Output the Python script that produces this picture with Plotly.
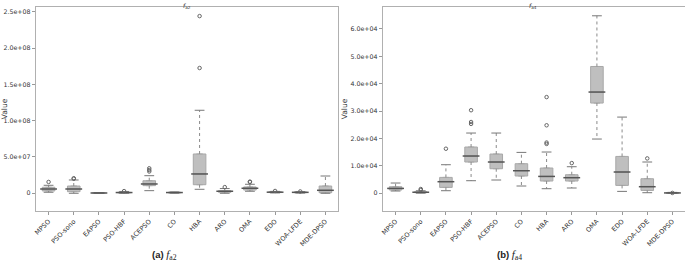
import plotly.graph_objects as go

categories = ["MPSO", "PSO-sono", "EAPSO", "PSO-HBF", "ACEPSO", "CO", "HBA",
              "ARO", "OMA", "EDO", "WOA-LFDE", "MDE-DPSO"]

# ---- f_a2 (left panel) ----
a2_q1 = [3.2e6, 2.2e6, 3e5, 5e5, 1.05e7, 6e5, 1.18e7, 1.4e6, 4.5e6, 1.0e6, 8e5, 8e5]
a2_med = [5.9e6, 5.9e6, 4e5, 1.0e6, 1.28e7, 1.0e6, 2.66e7, 2.8e6, 6.9e6, 1.5e6, 1.3e6, 4.1e6]
a2_q3 = [8.3e6, 1.0e7, 5e5, 1.5e6, 1.73e7, 1.4e6, 5.41e7, 3.6e6, 8.7e6, 2.0e6, 1.8e6, 1.0e7]
a2_lo = [1.4e6, 0, 2e5, 1e5, 3.6e6, 2e5, 5.5e6, 0, 2.8e6, 5e5, 3e5, 0]
a2_hi = [1.1e7, 1.83e7, 7e5, 2.5e6, 2.42e7, 1.8e6, 1.143e8, 6.5e6, 1.24e7, 2.6e6, 2.2e6, 2.38e7]
a2_out_x = ["MPSO", "PSO-sono", "PSO-sono", "PSO-HBF", "ACEPSO", "ACEPSO", "ACEPSO",
            "HBA", "HBA", "ARO", "OMA", "OMA", "EDO", "WOA-LFDE"]
a2_out_y = [1.56e7, 2.07e7, 2.0e7, 3.0e6, 3.44e7, 3.2e7, 3.0e7,
            2.44e8, 1.725e8, 8.5e6, 1.6e7, 1.55e7, 3.2e6, 2.5e6]
a2_ticks = [0, 5e7, 1e8, 1.5e8, 2e8, 2.5e8]
a2_ticktext = ["0", "5.0e+07", "1.0e+08", "1.5e+08", "2.0e+08", "2.5e+08"]

# ---- f_a4 (right panel) ----
a4_q1 = [1170, 200, 2120, 11390, 8940, 6280, 4450, 4450, 32920, 2850, 1020, 50]
a4_med = [1750, 350, 4200, 13580, 11390, 8210, 6130, 5660, 36940, 7740, 2370, 100]
a4_q3 = [2370, 500, 5770, 16860, 14300, 10770, 9200, 6750, 46280, 13430, 5290, 150]
a4_lo = [800, 0, 910, 4560, 4820, 2630, 1640, 1900, 19780, 660, 180, 0]
a4_hi = [3720, 900, 10400, 21970, 21970, 14900, 15040, 9670, 64790, 27800, 11390, 300]
a4_out_x = ["PSO-sono", "PSO-sono", "EAPSO", "PSO-HBF", "PSO-HBF", "PSO-HBF",
            "HBA", "HBA", "HBA", "HBA", "ARO", "WOA-LFDE", "MDE-DPSO"]
a4_out_y = [1530, 1170, 16240, 30300, 26000, 25300,
            35100, 24800, 18500, 18000, 11000, 12700, 100]
a4_ticks = [0, 1e4, 2e4, 3e4, 4e4, 5e4, 6e4]
a4_ticktext = ["0", "1.0e+04", "2.0e+04", "3.0e+04", "4.0e+04", "5.0e+04", "6.0e+04"]

BOX_FILL = "#bfbfbf"
BOX_LINE = "#a8a8a8"
MED_COLOR = "#555555"
WHISK = "#8a8a8a"
FONT = "DejaVu Sans, sans-serif"
CAPFONT = "Liberation Sans, Arial, sans-serif"

fig = go.Figure()


def add_panel(xa, ya, q1, med, q3, lo, hi, ox, oy):
    fig.add_trace(go.Box(
        x=categories, q1=q1, median=med, q3=q3, lowerfence=q1, upperfence=q3,
        width=0.5, fillcolor=BOX_FILL, line=dict(color=BOX_LINE, width=1),
        boxpoints=False, xaxis=xa, yaxis=ya, showlegend=False, hoverinfo="skip"))
    wx, wy = [], []
    for c, a, b, l, h in zip(categories, q1, q3, lo, hi):
        wx += [c, c, None, c, c, None]
        wy += [b, h, None, a, l, None]
    fig.add_trace(go.Scatter(
        x=wx, y=wy, mode="lines", line=dict(color=WHISK, width=1, dash="dot"),
        xaxis=xa, yaxis=ya, showlegend=False, hoverinfo="skip"))
    fig.add_trace(go.Scatter(
        x=categories + categories, y=lo + hi, mode="markers",
        marker=dict(symbol="line-ew", size=7, line=dict(color="#777777", width=1)),
        xaxis=xa, yaxis=ya, showlegend=False, hoverinfo="skip"))
    fig.add_trace(go.Scatter(
        x=categories, y=med, mode="markers",
        marker=dict(symbol="line-ew", size=12, line=dict(color=MED_COLOR, width=1.5)),
        xaxis=xa, yaxis=ya, showlegend=False, hoverinfo="skip"))
    fig.add_trace(go.Scatter(
        x=ox, y=oy, mode="markers",
        marker=dict(symbol="circle-open", size=3.5, color="#666666", line=dict(width=1)),
        xaxis=xa, yaxis=ya, showlegend=False, hoverinfo="skip"))


add_panel("x", "y", a2_q1, a2_med, a2_q3, a2_lo, a2_hi, a2_out_x, a2_out_y)
add_panel("x2", "y2", a4_q1, a4_med, a4_q3, a4_lo, a4_hi, a4_out_x, a4_out_y)

W, H = 685, 264
ydom = [1 - 211 / H, 1 - 7 / H]

xcommon = dict(type="category", categoryorder="array", categoryarray=categories,
               range=[-0.5, 11.5], tickangle=-45, ticks="outside", ticklen=3,
               tickcolor="#999999", tickfont=dict(family=FONT, size=6.5, color="#333333"),
               showline=True, linecolor="#b0b0b0", linewidth=1.2, mirror=True,
               showgrid=False, zeroline=False, fixedrange=True, automargin=False)
ycommon = dict(ticks="outside", ticklen=3, tickcolor="#999999",
               tickfont=dict(family=FONT, size=6.3, color="#333333"),
               showline=True, linecolor="#b0b0b0", linewidth=1.2, mirror=True,
               showgrid=False, zeroline=False, automargin=False, fixedrange=True,
               title=dict(text="Value", font=dict(family=FONT, size=7.5, color="#333333"),
                          standoff=1))

fig.update_layout(
    width=W, height=H, margin=dict(l=0, r=0, t=0, b=0, autoexpand=False),
    paper_bgcolor="white", plot_bgcolor="white",
    xaxis=dict(domain=[36 / W, 338 / W], anchor="y", **xcommon),
    yaxis=dict(domain=ydom, anchor="x", range=[-2.44e7, 2.565e8],
               tickvals=a2_ticks, ticktext=a2_ticktext, **ycommon),
    xaxis2=dict(domain=[383 / W, 1.0], anchor="y2", **xcommon),
    yaxis2=dict(domain=ydom, anchor="x2", range=[-6.5e3, 6.8e4],
                tickvals=a4_ticks, ticktext=a4_ticktext, **ycommon),
    annotations=[
        dict(text="<i>f</i><sub>a2</sub>", x=187 / W, y=1, xref="paper", yref="paper",
             xanchor="center", yanchor="top", showarrow=False,
             font=dict(family=FONT, size=6, color="#333333")),
        dict(text="<i>f</i><sub>a4</sub>", x=533 / W, y=1, xref="paper", yref="paper",
             xanchor="center", yanchor="top", showarrow=False,
             font=dict(family=FONT, size=6, color="#333333")),
        dict(text="<b>(a)</b> <span style='font-family:Liberation Serif, Times New Roman, serif;font-size:11px'><i>f</i><sub>a2</sub></span>",
             x=150 / W, y=1 - 255 / H, xref="paper", yref="paper",
             xanchor="left", yanchor="middle", showarrow=False,
             font=dict(family=CAPFONT, size=9.5, color="#222222")),
        dict(text="<b>(b)</b> <span style='font-family:Liberation Serif, Times New Roman, serif;font-size:11px'><i>f</i><sub>a4</sub></span>",
             x=495 / W, y=1 - 255 / H, xref="paper", yref="paper",
             xanchor="left", yanchor="middle", showarrow=False,
             font=dict(family=CAPFONT, size=9.5, color="#222222")),
    ],
)

fig.write_html("out.html", config={"displayModeBar": False},
               post_script="document.body.style.margin='0';")
